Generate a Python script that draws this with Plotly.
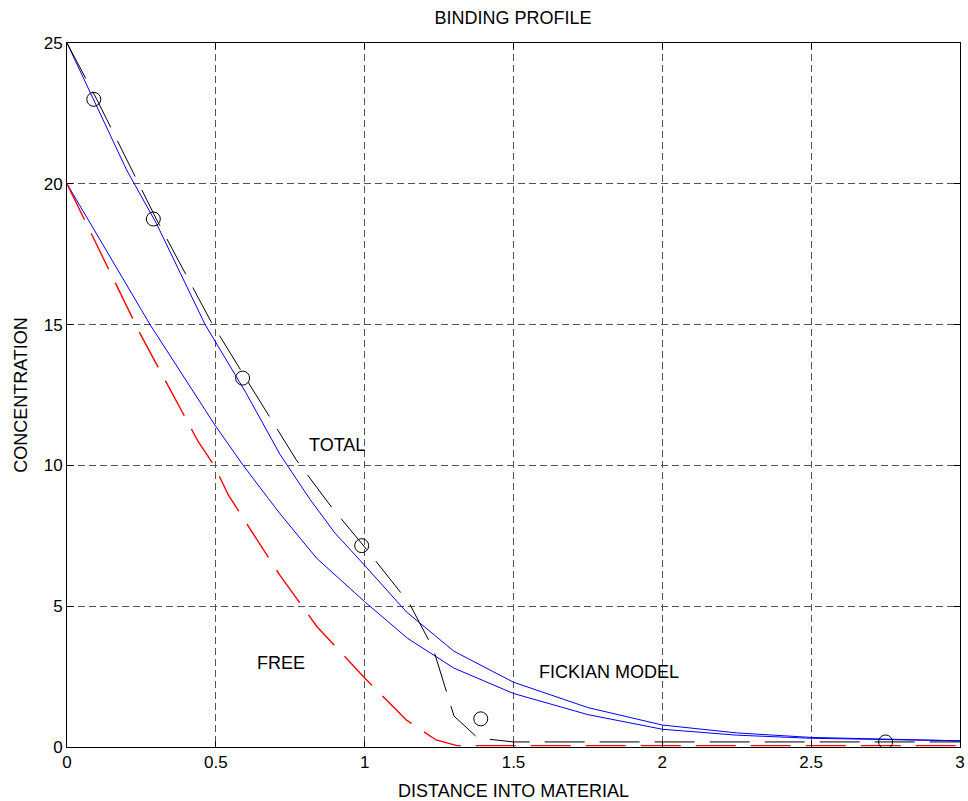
import plotly.graph_objects as go

# ---- data ----
total_model_x = [0, 0.1, 0.3, 0.484, 0.6, 0.77, 0.89, 1.0, 1.15, 1.175, 1.23, 1.3, 1.38, 1.5, 2.0, 2.5, 3.0]
total_model_y = [25, 23, 18.75, 15.1, 13.1, 10.2, 8.5, 7.1, 5.1, 4.6, 3.5, 1.1, 0.32, 0.18, 0.18, 0.18, 0.18]

fick_total_x = [0, 0.2, 0.3, 0.464, 0.6, 0.715, 0.816, 0.9, 1.0, 1.14, 1.3, 1.5, 1.75, 2.0, 2.25, 2.5, 2.75, 3.0]
fick_total_y = [25, 20.5, 18.6, 15.0, 12.6, 10.4, 8.8, 7.6, 6.45, 4.8, 3.4, 2.3, 1.4, 0.78, 0.5, 0.34, 0.28, 0.22]

fick_free_x = [0, 0.189, 0.279, 0.497, 0.592, 0.676, 0.715, 0.839, 1.0, 1.144, 1.3, 1.5, 1.75, 2.0, 2.25, 2.5, 2.75, 3.0]
fick_free_y = [20, 16.58, 15.0, 11.43, 10.0, 8.83, 8.29, 6.7, 5.16, 3.86, 2.8, 1.9, 1.15, 0.63, 0.42, 0.31, 0.26, 0.22]

free_model_x = [0, 0.156, 0.245, 0.441, 0.494, 0.542, 0.715, 0.84, 1.0, 1.14, 1.24, 1.31, 3.0]
free_model_y = [20, 16.64, 14.69, 10.84, 10.0, 8.95, 6.1, 4.27, 2.45, 0.96, 0.25, 0.05, 0.05]

data_x = [0.09, 0.29, 0.59, 0.99, 1.39, 2.75]
data_y = [23, 18.75, 13.1, 7.15, 1.0, 0.18]

label_text = ["TOTAL", "FREE", "FICKIAN MODEL"]
label_x = [0.908, 0.719, 1.821]
label_y = [10.72, 2.98, 2.67]

x_ticks = [0, 0.5, 1, 1.5, 2, 2.5, 3]
x_tick_text = ["0", "0.5", "1", "1.5", "2", "2.5", "3"]
y_ticks = [0, 5, 10, 15, 20, 25]
y_tick_text = ["0", "5", "10", "15", "20", "25"]

FONT = "Liberation Sans, Arial, Helvetica, sans-serif"

fig = go.Figure()
fig.add_trace(go.Scatter(x=fick_total_x, y=fick_total_y, mode="lines",
                         line=dict(color="#0000ff", width=1)))
fig.add_trace(go.Scatter(x=fick_free_x, y=fick_free_y, mode="lines",
                         line=dict(color="#0000ff", width=1)))
fig.add_trace(go.Scatter(x=total_model_x, y=total_model_y, mode="lines",
                         line=dict(color="black", width=1, dash="40px,15px")))
fig.add_trace(go.Scatter(x=free_model_x, y=free_model_y, mode="lines",
                         line=dict(color="#ff0000", width=1.4, dash="40px,15px")))
fig.add_trace(go.Scatter(x=data_x, y=data_y, mode="markers",
                         marker=dict(symbol="circle-open", size=14,
                                     color="black", line=dict(width=1, color="black"))))

for t, xx, yy in zip(label_text, label_x, label_y):
    fig.add_annotation(x=xx, y=yy, text=t, showarrow=False,
                       font=dict(family=FONT, size=18, color="black"),
                       xanchor="center", yanchor="middle")

axis_common = dict(
    showline=True, linecolor="black", linewidth=1, mirror="ticks",
    ticks="inside", ticklen=6, tickcolor="black",
    showgrid=True, gridcolor="#555555", gridwidth=1, griddash="7px,4px",
    zeroline=False, automargin=False, ticklabeloverflow="allow",
    tickfont=dict(family=FONT, size=17, color="black"),
)

fig.update_xaxes(range=[0, 3], tickvals=x_ticks, ticktext=x_tick_text,
                 title=dict(text="DISTANCE INTO MATERIAL", standoff=13,
                            font=dict(family=FONT, size=18, color="black")),
                 **axis_common)
fig.update_yaxes(range=[0, 25], tickvals=y_ticks, ticktext=y_tick_text,
                 title=dict(text="CONCENTRATION", standoff=11,
                            font=dict(family=FONT, size=18, color="black")),
                 **axis_common)

fig.update_layout(
    template="none",
    width=968, height=801,
    margin=dict(l=67, r=8, t=43, b=54),
    paper_bgcolor="white", plot_bgcolor="white",
    showlegend=False,
    title=dict(text="BINDING PROFILE", x=513 / 968, xanchor="center",
               y=1 - 18 / 801, yanchor="middle",
               font=dict(family=FONT, size=18, color="black")),
)

# remove the default page margin so the figure fills the window exactly
fig.write_html("out.html",
               config={"displayModeBar": False},
               post_script="document.body.style.margin='0';document.body.style.overflow='hidden';")
